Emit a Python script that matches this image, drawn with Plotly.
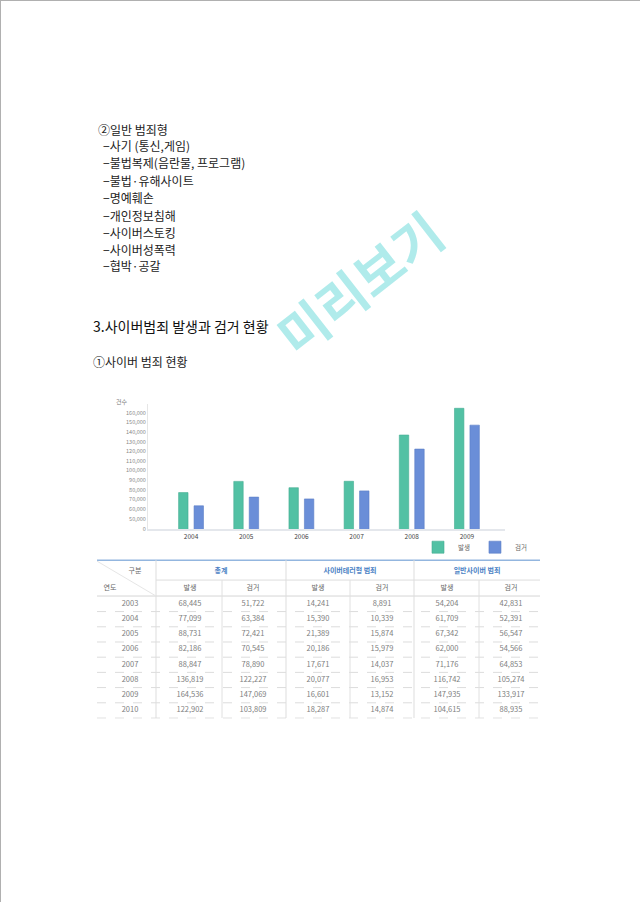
import plotly.graph_objects as go

# ---------------- data ----------------
chart_years = ["2004", "2005", "2006", "2007", "2008", "2009"]
occur = [77099, 88731, 82186, 88847, 136819, 164536]
arrest = [63384, 72421, 70545, 78890, 122227, 147069]
y_tick_vals = [50000, 60000, 70000, 80000, 90000, 100000, 110000, 120000, 130000, 140000, 150000, 160000]
y_tick_text = ["50,000", "60,000", "70,000", "80,000", "90,000", "100,000", "110,000", "120,000",
               "130,000", "140,000", "150,000", "160,000"]

table_years = ["2003", "2004", "2005", "2006", "2007", "2008", "2009", "2010"]
total_occur = [68445, 77099, 88731, 82186, 88847, 136819, 164536, 122902]
total_arrest = [51722, 63384, 72421, 70545, 78890, 122227, 147069, 103809]
terror_occur = [14241, 15390, 21389, 20186, 17671, 20077, 16601, 18287]
terror_arrest = [8891, 10339, 15874, 15979, 14037, 16953, 13152, 14874]
general_occur = [54204, 61709, 67342, 62000, 71176, 116742, 147935, 104615]
general_arrest = [42831, 52391, 56547, 54566, 64853, 105274, 133917, 88935]

list_items = ["−사기 (통신,게임)", "−불법복제(음란물, 프로그램)", "−불법·유해사이트", "−명예훼손",
              "−개인정보침해", "−사이버스토킹", "−사이버성폭력", "−협박·공갈"]

W, H = 640, 905
KFONT = "Noto Sans CJK KR"
GREEN = "#52c1a4"
BLUE = "#6a8ed8"


def px(x, y):
    return x / W, 1 - y / H


fig = go.Figure()

# ---------------- bar chart ----------------
fig.add_trace(go.Bar(x=chart_years, y=occur, name="발생", marker=dict(color=GREEN, line=dict(color="#45ad92", width=0.6))))
fig.add_trace(go.Bar(x=chart_years, y=arrest, name="검거", marker=dict(color=BLUE, line=dict(color="#5b7ec6", width=0.6))))

# ---------------- table (on a hidden page-pixel axis) ----------------
col_x = [130, 190, 253, 318, 382, 447, 511]
row_y0, row_dy = 606, 15.25
columns = [table_years,
           [f"{v:,}" for v in total_occur], [f"{v:,}" for v in total_arrest],
           [f"{v:,}" for v in terror_occur], [f"{v:,}" for v in terror_arrest],
           [f"{v:,}" for v in general_occur], [f"{v:,}" for v in general_arrest]]
tx, ty, tt = [], [], []
for ci, col in enumerate(columns):
    for ri, val in enumerate(col):
        tx.append(col_x[ci])
        ty.append(row_y0 + ri * row_dy)
        tt.append(val)
fig.add_trace(go.Scatter(x=tx, y=ty, text=tt, mode="text", xaxis="x2", yaxis="y2",
                         textfont=dict(family=KFONT, size=7.5, color="#808080"),
                         showlegend=False, hoverinfo="skip"))

# sub header
sub_x = col_x[1:]
sub_t = ["발생", "검거"] * 3
fig.add_trace(go.Scatter(x=sub_x, y=[590] * 6, text=sub_t, mode="text", xaxis="x2", yaxis="y2",
                         textfont=dict(family=KFONT, size=7, color="#666666"),
                         showlegend=False, hoverinfo="skip"))
grp_x = [221, 350, 477]
grp_t = ["<b>총계</b>", "<b>사이버테러형 범죄</b>", "<b>일반사이버 범죄</b>"]
fig.add_trace(go.Scatter(x=grp_x, y=[573] * 3, text=grp_t, mode="text", xaxis="x2", yaxis="y2",
                         textfont=dict(family=KFONT, size=7, color="#4a7fc4"),
                         showlegend=False, hoverinfo="skip"))
fig.add_trace(go.Scatter(x=[135, 110], y=[573, 590], text=["구분", "연도"], mode="text", xaxis="x2", yaxis="y2",
                         textfont=dict(family=KFONT, size=7, color="#666666"),
                         showlegend=False, hoverinfo="skip"))

shapes = []
# page border (top and left)
shapes.append(dict(type="line", xref="paper", yref="paper", x0=0, x1=1, y0=1 - 0.5 / H, y1=1 - 0.5 / H,
                   line=dict(color="#b0b0b0", width=1)))
shapes.append(dict(type="line", xref="paper", yref="paper", x0=0.5 / W, x1=0.5 / W, y0=0, y1=1,
                   line=dict(color="#b0b0b0", width=1)))

# table lines
tl, tr = 97, 540
shapes.append(dict(type="line", xref="x2", yref="y2", x0=tl, x1=tr, y0=562, y1=562,
                   line=dict(color="#93b6df", width=1.5)))
shapes.append(dict(type="line", xref="x2", yref="y2", x0=156, x1=tr, y0=582, y1=582,
                   line=dict(color="#dddddd", width=1)))
shapes.append(dict(type="line", xref="x2", yref="y2", x0=tl, x1=tr, y0=598, y1=598,
                   line=dict(color="#d5d5d5", width=1)))
for ri in range(1, len(table_years)):
    yy = row_y0 + (ri - 0.5) * row_dy
    shapes.append(dict(type="line", xref="x2", yref="y2", x0=tl, x1=tr, y0=yy, y1=yy,
                       line=dict(color="#dcdcdc", width=1, dash="dash")))
yend = row_y0 + (len(table_years) - 0.5) * row_dy
shapes.append(dict(type="line", xref="x2", yref="y2", x0=tl, x1=tr, y0=yend, y1=yend,
                   line=dict(color="#e2e2e2", width=1, dash="dash")))
for xv in [156, 286, 414]:
    shapes.append(dict(type="line", xref="x2", yref="y2", x0=xv, x1=xv, y0=562, y1=yend,
                       line=dict(color="#dddddd", width=1)))
for xv in [222, 350, 479]:
    shapes.append(dict(type="line", xref="x2", yref="y2", x0=xv, x1=xv, y0=582, y1=yend,
                       line=dict(color="#e0e0e0", width=1)))
shapes.append(dict(type="line", xref="x2", yref="y2", x0=tl, x1=156, y0=563, y1=598,
                   line=dict(color="#e6e6e6", width=1)))

# ---------------- document text ----------------
ann = []
x0, y0 = px(96, 130)
ann.append(dict(x=x0, y=y0, xref="paper", yref="paper", text="②일반 범죄형", showarrow=False,
                xanchor="left", yanchor="middle", font=dict(family=KFONT, size=12, color="#222")))
item_y = [146, 163, 181, 198, 216, 233, 250, 266]
for t, yy in zip(list_items, item_y):
    x0, y0 = px(101, yy)
    ann.append(dict(x=x0, y=y0, xref="paper", yref="paper", text=t, showarrow=False,
                    xanchor="left", yanchor="middle", font=dict(family=KFONT, size=12, color="#222")))
x0, y0 = px(91, 327)
ann.append(dict(x=x0, y=y0, xref="paper", yref="paper", text="3.사이버범죄 발생과 검거 현황", showarrow=False,
                xanchor="left", yanchor="middle", font=dict(family=KFONT, size=14, color="#111")))
x0, y0 = px(91, 363)
ann.append(dict(x=x0, y=y0, xref="paper", yref="paper", text="①사이버 범죄 현황", showarrow=False,
                xanchor="left", yanchor="middle", font=dict(family=KFONT, size=12, color="#222")))
# y axis title
x0, y0 = px(122, 403)
ann.append(dict(x=x0, y=y0, xref="paper", yref="paper", text="건수", showarrow=False,
                xanchor="center", yanchor="middle", font=dict(family=KFONT, size=6, color="#777")))
# watermark
x0, y0 = px(358, 283)
ann.append(dict(x=x0, y=y0, xref="paper", yref="paper", text="<b>미리보기</b>", showarrow=False, textangle=-38,
                xanchor="center", yanchor="middle", font=dict(family=KFONT, size=52, color="#b0ebeb")))

fig.update_layout(
    width=W, height=H, margin=dict(l=0, r=0, t=0, b=0),
    paper_bgcolor="white", plot_bgcolor="rgba(0,0,0,0)",
    barmode="group", bargap=0.44, bargroupgap=0.39,
    font=dict(family=KFONT),
    xaxis=dict(domain=[148 / W, 505 / W], type="category", range=[-0.78, 5.69],
               showgrid=False, showline=True, linecolor="#e4e7ec", linewidth=2,
               tickfont=dict(size=6.5, color="#444"), ticks="", zeroline=False, fixedrange=True),
    yaxis=dict(domain=[1 - 531 / H, 1 - 405 / H], range=[39100, 169340],
               tickvals=[39600] + y_tick_vals, ticktext=["0"] + y_tick_text,
               showgrid=False, showline=True, linecolor="#e6e6e6", linewidth=1,
               tickfont=dict(size=5.5, color="#888"), ticks="", zeroline=False, fixedrange=True),
    xaxis2=dict(domain=[0, 1], range=[0, W], visible=False, fixedrange=True),
    yaxis2=dict(domain=[0, 1], range=[H, 0], visible=False, fixedrange=True),
    legend=dict(orientation="h", x=532 / W, y=1 - 549 / H, xanchor="right", yanchor="middle",
                font=dict(size=6.5, color="#666"), itemwidth=30,
                bgcolor="rgba(0,0,0,0)"),
    shapes=shapes, annotations=ann, showlegend=True,
)

fig.write_html("out.html")
